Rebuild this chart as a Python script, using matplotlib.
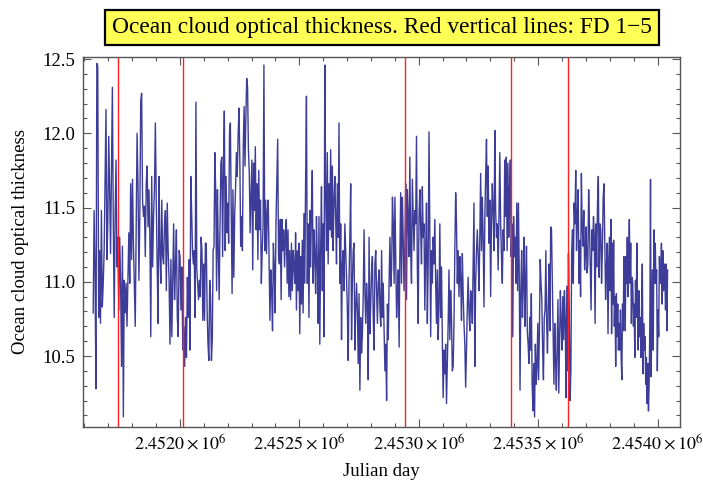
import numpy as np
import matplotlib
matplotlib.use("Agg")
from matplotlib import pyplot as plt
from matplotlib.ticker import MultipleLocator, FixedLocator, FixedFormatter

plt.rcParams['font.family'] = ['Liberation Serif', 'DejaVu Serif']
plt.rcParams['mathtext.fontset'] = 'stix'

# Julian day span of each chunk of readings (left to right)
seg_days = [(2451637, 2452039), (2452042, 2452478), (2452481, 2452918),
            (2452921, 2453357), (2453360, 2453796), (2453799, 2454042)]

seg1 = [10.79, 11.48, 11.07, 10.28, 12.47, 12.45, 10.76, 11.21, 10.72, 11.48, 10.83, 10.99,
        11.21, 11.71, 12.16, 11.15, 11.39, 11.98, 11.62, 11.19, 11.78, 12.31, 11.39, 10.76,
        11.44, 11.82, 11.10, 11.30, 10.81, 11.30, 10.99, 10.43, 11.24, 10.09, 11.01, 10.79,
        10.99, 10.70, 11.03, 11.33, 10.99, 11.66, 11.15, 11.69, 11.26, 10.99, 10.70, 11.33,
        12.00, 11.66, 11.01, 11.44, 12.22, 12.27, 11.55, 11.44, 11.51, 11.17, 11.66, 11.78,
        11.37, 11.62, 11.30, 10.63, 11.71, 11.10, 11.44, 11.62, 12.07, 11.55, 11.10, 10.72,
        11.71, 11.21, 10.99, 11.55, 11.17, 11.12, 11.39, 11.48, 10.94, 11.53, 11.21, 11.01,
        10.58, 11.15, 10.63, 10.99, 11.39, 10.88, 11.10, 11.35, 10.76, 10.63, 11.21, 11.17,
        10.81, 11.10, 10.54, 10.70, 10.43, 10.76, 10.49, 11.03, 10.76, 11.15]
seg2 = [10.54, 11.71, 11.48, 11.21, 11.12, 11.21, 10.76, 12.21, 11.08, 10.99, 10.88, 11.01,
        10.90, 11.30, 11.21, 10.74, 11.12, 10.74, 11.26, 11.26, 10.81, 10.58, 10.47, 11.01,
        10.90, 10.47, 10.61, 11.21, 11.24, 11.87, 11.60, 10.94, 11.62, 11.21, 10.88, 11.39,
        11.80, 11.84, 11.17, 11.78, 12.15, 11.21, 11.71, 11.33, 11.53, 11.26, 12.00, 12.07,
        11.46, 10.92, 11.62, 11.03, 11.44, 11.62, 11.87, 11.71, 11.98, 12.17, 11.82, 11.24,
        11.44, 11.21, 11.91, 12.18, 11.78, 12.11, 12.37, 12.31, 11.89, 11.73, 11.33, 11.57,
        11.82, 11.08, 11.80, 11.48, 11.91, 11.35, 11.66, 11.15, 11.75, 11.35, 11.55, 10.99,
        11.21, 11.37, 12.46, 11.21, 11.55, 11.19, 11.48, 11.55, 11.12, 10.74, 11.08, 10.94,
        10.67, 11.26, 11.10, 10.79, 11.39, 11.66, 11.96, 11.17, 11.12, 11.42, 10.88, 11.42,
        11.21, 11.35, 11.10, 11.30, 11.42, 10.99, 11.35, 10.90, 11.21, 10.88, 11.26, 10.94,
        11.21, 11.10]
seg3 = [10.99, 11.33, 10.81, 11.21, 10.94, 11.26, 10.65, 11.17, 10.85, 11.28, 10.79, 11.46,
        10.99, 11.69, 12.25, 10.99, 11.39, 10.76, 11.48, 11.10, 11.48, 11.75, 10.99, 11.35,
        11.17, 10.92, 11.44, 11.12, 10.72, 11.44, 10.58, 11.21, 11.64, 10.94, 11.39, 10.63,
        12.46, 11.62, 11.21, 11.87, 11.12, 11.66, 11.35, 11.89, 11.30, 11.78, 11.21, 11.55,
        11.71, 11.44, 11.12, 11.66, 11.30, 12.07, 10.99, 11.39, 10.61, 11.12, 11.21, 10.94,
        11.39, 11.21, 11.03, 10.81, 10.47, 11.01, 11.30, 11.66, 10.61, 10.99, 11.21, 11.26,
        10.54, 10.81, 10.99, 10.81, 10.45, 10.92, 10.27, 10.76, 10.52, 10.65, 10.90, 11.35,
        10.94, 10.72, 10.99, 10.85, 10.34, 11.30, 10.65, 10.85, 11.08, 11.17, 10.76, 10.54,
        11.12, 11.21, 10.94, 10.72, 10.99, 11.08, 10.81, 10.70, 11.21, 10.76, 10.99, 10.67,
        10.40, 10.58, 10.20, 10.85, 10.61, 11.01, 11.30, 10.97, 11.08, 11.57, 11.39, 10.99,
        11.57, 11.12, 10.76, 10.94, 11.08, 10.56]
seg4 = [11.17, 11.60, 10.99, 11.57, 11.30, 10.94, 11.21, 11.66, 10.88, 11.62, 11.44, 11.17,
        11.84, 11.21, 10.99, 11.69, 11.44, 11.21, 11.48, 11.39, 11.98, 11.10, 10.72, 11.44,
        11.62, 11.35, 11.12, 11.64, 11.30, 11.39, 10.81, 11.21, 11.53, 10.72, 11.12, 12.01,
        11.30, 10.63, 11.21, 10.99, 11.30, 11.12, 11.42, 10.99, 10.72, 11.08, 10.61, 10.85,
        11.39, 10.76, 11.10, 10.61, 10.22, 10.54, 10.38, 10.58, 10.18, 10.45, 10.72, 11.08,
        10.61, 10.94, 10.76, 10.40, 10.43, 10.72, 11.21, 11.60, 11.39, 10.99, 11.21, 10.90,
        11.17, 11.03, 10.74, 11.19, 10.92, 10.72, 10.58, 10.29, 10.54, 10.83, 11.03, 10.79,
        10.67, 10.94, 10.90, 10.72, 11.10, 11.53, 10.43, 10.99, 11.21, 11.35, 11.17, 10.94,
        11.30, 11.73, 11.21, 11.57, 11.30, 10.83, 11.42, 11.71, 11.96, 11.44, 11.78, 11.26,
        11.55, 10.90, 11.39, 11.66, 11.48, 11.21, 12.02, 11.48, 11.30, 11.39, 11.08, 11.44,
        11.87, 11.39, 11.17, 10.99, 11.35, 11.21]
seg5 = [11.82, 11.44, 11.84, 11.21, 11.80, 11.30, 11.62, 11.82, 11.17, 11.39, 10.63, 11.44,
        11.17, 11.30, 10.99, 11.53, 10.94, 11.53, 11.08, 10.27, 10.94, 11.21, 10.76, 10.99,
        11.30, 10.70, 11.01, 11.24, 10.67, 10.58, 10.45, 10.76, 10.54, 10.92, 10.31, 10.13,
        10.45, 10.09, 10.58, 10.31, 10.43, 10.72, 10.34, 10.67, 11.15, 10.99, 10.88, 10.54,
        10.34, 10.76, 10.81, 11.21, 10.72, 10.52, 10.85, 11.12, 10.67, 11.37, 11.35, 10.99,
        10.61, 10.31, 10.72, 10.47, 10.27, 10.58, 10.88, 10.25, 10.61, 10.94, 10.72, 10.54,
        10.90, 10.61, 10.94, 10.74, 10.22, 10.97, 10.40, 11.19, 10.81, 10.20, 10.40, 11.21,
        11.35, 10.99, 11.53, 11.39, 11.75, 11.21, 11.44, 11.62, 10.99, 11.28, 10.90, 11.73,
        11.39, 11.24, 11.48, 11.08, 11.21, 11.37, 11.06, 11.12, 11.62, 11.39, 11.10, 10.81,
        11.35, 11.21, 11.44, 11.30, 10.72, 11.39, 11.10, 11.53, 11.71, 11.03, 11.39, 11.35,
        10.99, 11.21, 11.57, 11.66, 11.26, 10.88, 11.10, 11.26, 10.65, 11.17]
seg6 = [11.30, 10.94, 11.42, 10.65, 11.26, 10.85, 11.28, 10.70, 10.90, 10.43, 10.92, 10.63,
        10.85, 10.54, 10.72, 10.54, 10.81, 10.49, 10.34, 10.85, 10.67, 11.17, 11.03, 10.67,
        11.17, 10.99, 11.30, 10.90, 11.19, 11.42, 10.99, 11.26, 10.72, 11.03, 10.99, 10.70,
        10.85, 10.49, 11.01, 10.76, 11.26, 10.85, 10.54, 10.94, 10.63, 10.76, 10.49, 10.85,
        11.12, 10.38, 10.72, 10.54, 10.63, 10.31, 10.49, 10.18, 10.45, 10.13, 10.31, 10.72,
        11.69, 10.36, 10.83, 11.08, 10.54, 11.35, 10.99, 11.26, 10.99, 11.08, 10.40, 10.81,
        10.63, 11.17, 11.03, 10.99, 11.26, 10.85, 11.21, 10.94, 11.12, 11.03, 10.81, 11.12,
        10.67, 11.08]
segments = [seg1, seg2, seg3, seg4, seg5, seg6]

# Forbush decreases 1-5 (Julian day)
fd_days = [2451741, 2452011, 2452942, 2453388, 2453625]

x_ticks = [2452000, 2452500, 2453000, 2453500, 2454000]
x_tick_labels = [r'$2.4520\times10^{6}$', r'$2.4525\times10^{6}$', r'$2.4530\times10^{6}$',
                 r'$2.4535\times10^{6}$', r'$2.4540\times10^{6}$']
y_ticks = [10.5, 11.0, 11.5, 12.0, 12.5]

days = np.concatenate([np.linspace(a, b, len(s)) for (a, b), s in zip(seg_days, segments)])
tau = np.concatenate(segments)

fig = plt.figure(figsize=(7.03, 4.84), dpi=100)
ax = fig.add_axes([0.1176, 0.1184, 0.849, 0.7632])

ax.plot(days, tau, color='#3d3d99', lw=1.0)
for d in fd_days:
    ax.axvline(d, color='#ff2020', lw=1.0)

ax.set_xlim(2451593, 2454092)
ax.set_ylim(10.024, 12.512)

ax.xaxis.set_major_locator(FixedLocator(x_ticks))
ax.xaxis.set_major_formatter(FixedFormatter(x_tick_labels))
ax.xaxis.set_minor_locator(MultipleLocator(100))
ax.yaxis.set_major_locator(FixedLocator(y_ticks))
ax.yaxis.set_minor_locator(MultipleLocator(0.1))
ax.set_yticklabels(['%.1f' % v for v in y_ticks])

frame_col = '#555555'
for sp in ax.spines.values():
    sp.set_color(frame_col)
    sp.set_linewidth(1.0)
ax.tick_params(which='both', direction='in', top=True, right=True, color=frame_col, width=0.8)
ax.tick_params(which='major', length=5.5, labelsize=13.5, pad=5)
ax.tick_params(axis='x', which='major', labelsize=13)
ax.tick_params(which='minor', length=3)

ax.set_xlabel('Julian day', fontsize=13.5, labelpad=7)
ax.set_ylabel('Ocean cloud optical thickness', fontsize=13.5, labelpad=10)

fig.text(0.5434, 0.9432, 'Ocean cloud optical thickness. Red vertical lines: FD 1\u22125',
         ha='center', va='center', fontsize=16.8,
         bbox=dict(boxstyle='square,pad=0.3', fc='#ffff55', ec='black', lw=1.6))

fig.savefig('out.png', dpi=100)
